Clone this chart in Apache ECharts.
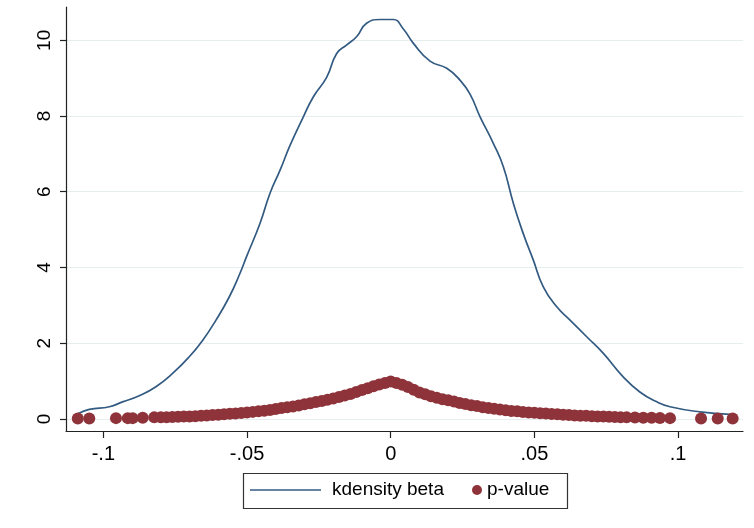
<!DOCTYPE html>
<html>
<head>
<meta charset="utf-8">
<script src="https://cdn.jsdelivr.net/npm/echarts@6/dist/echarts.min.js"></script>
<style>
  html, body { margin: 0; padding: 0; background: #fff; }
  #main { width: 754px; height: 528px; }
</style>
</head>
<body>
<div id="main"></div>
<script>
// kdensity of beta
var kdX = [-0.1087, -0.1049, -0.0979, -0.0933, -0.0875, -0.0817, -0.0759, -0.0701, -0.0654, -0.0608,
  -0.0562, -0.0527, -0.0501, -0.0455, -0.0420, -0.0385, -0.0350, -0.0304, -0.0269, -0.0223,
  -0.0188, -0.0153, -0.0118, -0.0084, -0.0037, 0.0009, 0.0044, 0.0079, 0.0137, 0.0195,
  0.0241, 0.0276, 0.0311, 0.0357, 0.0392, 0.0427, 0.0461, 0.0496, 0.0531, 0.0578,
  0.0624, 0.0682, 0.0740, 0.0809, 0.0867, 0.0926, 0.0972, 0.1076, 0.1181];
var kdY = [0.14, 0.25, 0.32, 0.45, 0.61, 0.85, 1.20, 1.64, 2.08, 2.61,
  3.22, 3.80, 4.30, 5.16, 5.96, 6.57, 7.23, 7.98, 8.51, 9.02,
  9.65, 9.88, 10.10, 10.45, 10.55, 10.55, 10.30, 9.92, 9.45, 9.26,
  8.95, 8.58, 7.98, 7.28, 6.66, 5.69, 4.90, 4.20, 3.49, 2.96,
  2.61, 2.17, 1.73, 1.11, 0.71, 0.45, 0.32, 0.185, 0.12];

// p-value against beta
var betaObs = [-0.1089, -0.1049, -0.0956, -0.0915, -0.0898, -0.0863, -0.0823,
  -0.080, -0.078, -0.076, -0.074, -0.072, -0.070, -0.068, -0.066, -0.064, -0.062,
  -0.060, -0.058, -0.056, -0.054, -0.052, -0.050, -0.048, -0.046, -0.044, -0.042,
  -0.040, -0.038, -0.036, -0.034, -0.032, -0.030, -0.028, -0.026, -0.024, -0.022,
  -0.020, -0.018, -0.016, -0.014, -0.012, -0.010, -0.008, -0.006, -0.004, -0.002, 0,
  0.002, 0.004, 0.006, 0.008, 0.010, 0.012, 0.014, 0.016, 0.018, 0.020,
  0.022, 0.024, 0.026, 0.028, 0.030, 0.032, 0.034, 0.036, 0.038, 0.040,
  0.042, 0.044, 0.046, 0.048, 0.050, 0.052, 0.054, 0.056, 0.058, 0.060,
  0.062, 0.064, 0.066, 0.068, 0.070, 0.072, 0.074, 0.076, 0.078, 0.080,
  0.0821, 0.085, 0.0879, 0.0908, 0.0937, 0.0972, 0.108, 0.1138, 0.119];
var pValue = [0.01, 0.01, 0.02, 0.02, 0.02, 0.03, 0.04,
  0.04, 0.045, 0.05, 0.055, 0.06, 0.065, 0.07, 0.08, 0.09, 0.10,
  0.11, 0.12, 0.135, 0.145, 0.155, 0.17, 0.185, 0.20, 0.215, 0.235,
  0.26, 0.285, 0.305, 0.33, 0.355, 0.385, 0.415, 0.445, 0.475, 0.505,
  0.54, 0.58, 0.62, 0.66, 0.71, 0.76, 0.81, 0.86, 0.91, 0.95, 0.99,
  0.95, 0.90, 0.84, 0.77, 0.70, 0.65, 0.60, 0.56, 0.52, 0.49,
  0.46, 0.42, 0.39, 0.36, 0.34, 0.31, 0.29, 0.27, 0.25, 0.23,
  0.21, 0.20, 0.18, 0.17, 0.16, 0.15, 0.14, 0.13, 0.12, 0.11,
  0.10, 0.09, 0.085, 0.08, 0.07, 0.065, 0.06, 0.055, 0.05, 0.045,
  0.04, 0.035, 0.03, 0.03, 0.025, 0.02, 0.01, 0.01, 0.01];

var xTicks = [-0.1, -0.05, 0, 0.05, 0.1];
var xTickLabels = ['-.1', '-.05', '0', '.05', '.1'];
var yTicks = [0, 2, 4, 6, 8, 10];

var lineColor = '#335b82';
var dotColor = '#8f333a';
var axisColor = '#222';
var fontFam = 'Arial, "Liberation Sans", sans-serif';

var kdData = kdX.map(function (x, i) { return [x, kdY[i]]; });
var pData = betaObs.map(function (x, i) { return [x, pValue[i]]; });

var chart = echarts.init(document.getElementById('main'), null, { renderer: 'canvas' });

var option = {
  backgroundColor: '#fff',
  animation: false,
  grid: {
    left: 66, right: 11, top: 7, bottom: 97,
    containLabel: false,
    outerBoundsMode: 'none'
  },
  xAxis: {
    type: 'value',
    min: -0.113,
    max: 0.1226,
    axisLine: { show: true, onZero: false, lineStyle: { color: axisColor, width: 1.2 } },
    axisTick: { show: true, length: 7, customValues: xTicks, lineStyle: { color: axisColor, width: 1.2 } },
    axisLabel: {
      customValues: xTicks,
      margin: 13,
      fontSize: 20,
      fontFamily: fontFam,
      color: '#000',
      formatter: function (v) {
        var idx = xTicks.findIndex(function (t) { return Math.abs(t - v) < 1e-9; });
        return idx >= 0 ? xTickLabels[idx] : '';
      }
    },
    splitLine: { show: false }
  },
  yAxis: {
    type: 'value',
    min: -0.32,
    max: 10.88,
    axisLine: { show: true, onZero: false, lineStyle: { color: axisColor, width: 1.2 } },
    axisTick: { show: true, length: 6, customValues: yTicks, lineStyle: { color: axisColor, width: 1.2 } },
    axisLabel: {
      customValues: yTicks,
      rotate: 90,
      margin: 12,
      fontSize: 19,
      fontFamily: fontFam,
      color: '#000'
    },
    splitLine: { show: true, lineStyle: { color: '#e6eef0', width: 1.2 } }
  },
  legend: [
    {
      data: [{ name: 'kdensity beta', icon: 'rect' }],
      left: 250, top: 480,
      padding: 0,
      itemWidth: 71, itemHeight: 1.6,
      textStyle: { fontSize: 19, lineHeight: 20, color: '#000', fontFamily: fontFam, padding: [0, 0, 0, 6] }
    },
    {
      data: [{ name: 'p-value', icon: 'circle' }],
      left: 472, top: 480,
      padding: 0,
      itemWidth: 10, itemHeight: 10,
      textStyle: { fontSize: 19, lineHeight: 20, color: '#000', fontFamily: fontFam }
    }
  ],
  graphic: [
    {
      type: 'rect',
      shape: { x: 243.5, y: 473.5, width: 324, height: 35 },
      style: { fill: 'none', stroke: '#333', lineWidth: 1.2 }
    }
  ],
  series: [
    {
      name: 'kdensity beta',
      type: 'line',
      data: kdData,
      smooth: 0.5,
      symbol: 'none',
      lineStyle: { color: lineColor, width: 1.7 },
      itemStyle: { color: lineColor },
      z: 2
    },
    {
      name: 'p-value',
      type: 'scatter',
      data: pData,
      symbol: 'circle',
      symbolSize: 12,
      itemStyle: { color: dotColor, opacity: 1 },
      z: 3
    }
  ]
};

chart.setOption(option);
</script>
</body>
</html>
